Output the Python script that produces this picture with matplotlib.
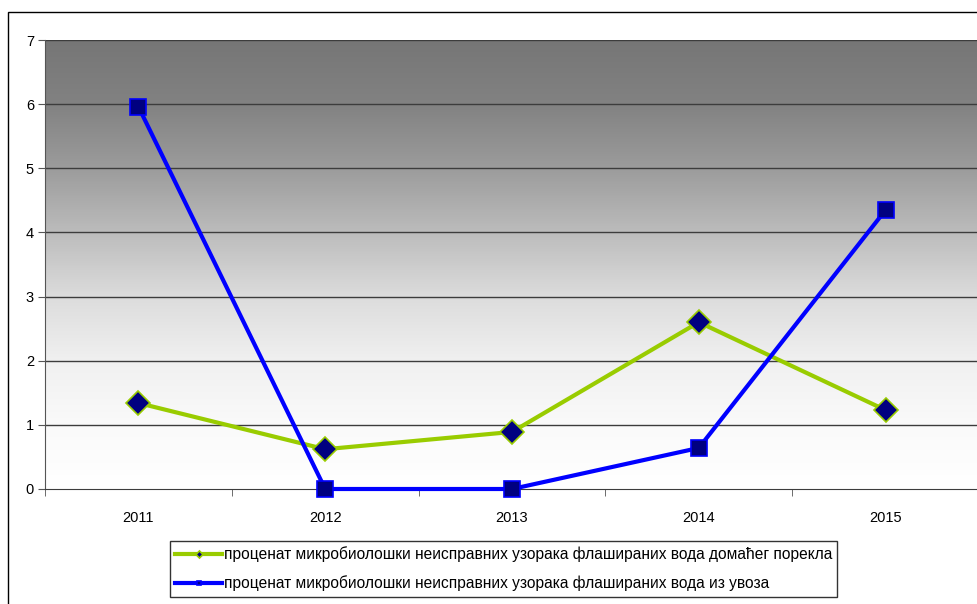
import matplotlib.pyplot as plt
import numpy as np
from matplotlib.colors import LinearSegmentedColormap
from matplotlib.patches import Rectangle

plt.rcParams['font.family'] = ['Liberation Sans', 'DejaVu Sans']

godine = ['2011', '2012', '2013', '2014', '2015']
domace = [1.34, 0.62, 0.89, 2.6, 1.23]
uvoz = [5.96, 0.0, 0.0, 0.64, 4.35]

lab_domace = 'проценат микробиолошки неисправних узорака флашираних вода домаћег порекла'
lab_uvoz = 'проценат микробиолошки неисправних узорака флашираних вода из увоза'

W, H = 978, 604
fig = plt.figure(figsize=[W / 100, H / 100], dpi=100)

# okvir oko cele slike
fig.patches.append(Rectangle((8 / W, -0.1), 2, (H - 12) / H + 0.1, transform=fig.transFigure,
                             fill=False, edgecolor='black', linewidth=1.0))

ax = fig.add_axes([45 / W, (H - 489) / H, 934 / W, 449 / H])

# pozadina sa prelazom sive
siva = LinearSegmentedColormap.from_list('siva', [
    (0.0, '#ffffff'), (1 / 7, '#fafafa'), (2 / 7, '#f0f0f0'), (3 / 7, '#dcdcdc'),
    (4 / 7, '#bcbcbc'), (5 / 7, '#9c9c9c'), (6 / 7, '#828282'), (1.0, '#767676')])
grad = np.linspace(0, 1, 256).reshape(-1, 1)
ax.imshow(grad, cmap=siva, origin='lower', aspect='auto',
          extent=[-0.5, 4.5, 0, 7], zorder=0)

x = np.arange(len(godine))
for y in range(1, 8):
    ax.axhline(y, color='#3c3c3c', linewidth=1.0, zorder=1)

ax.plot(x, domace, color='#99cc00', linewidth=3, marker='D', markersize=12,
        markerfacecolor='#000080', markeredgecolor='#99cc00', markeredgewidth=1.2,
        label=lab_domace, zorder=3, clip_on=False)
ax.plot(x, uvoz, color='#0000ff', linewidth=3, marker='s', markersize=12,
        markerfacecolor='#000080', markeredgecolor='#0000ff', markeredgewidth=1.2,
        label=lab_uvoz, zorder=4, clip_on=False)

ax.set_xlim(-0.5, 4.5)
ax.set_ylim(0, 7)
ax.set_yticks(range(0, 8))
ax.set_xticks(x)
ax.set_xticklabels(godine)
ax.set_xticks(np.arange(-0.5, 4.6, 1), minor=True)
ax.tick_params(axis='x', which='major', length=0, labelsize=10.5, pad=16)
ax.tick_params(axis='x', which='minor', length=5, color='#555555')
ax.tick_params(axis='y', length=5, labelsize=10.5, color='#555555', pad=3)

for s in ['top', 'right']:
    ax.spines[s].set_visible(False)
ax.spines['left'].set_color('#555555')
ax.spines['bottom'].set_color('#3c3c3c')

leg = fig.legend(loc='upper left', bbox_to_anchor=(170 / W, 1 - 541 / H),
                 fontsize=11.2, frameon=True, fancybox=False, handlelength=3.0,
                 handletextpad=0.1, borderpad=0.35, labelspacing=0.85, markerscale=0.3,
                 borderaxespad=0)
leg.get_frame().set_edgecolor('black')
leg.get_frame().set_linewidth(1.0)

fig.savefig('out.png', dpi=100)
